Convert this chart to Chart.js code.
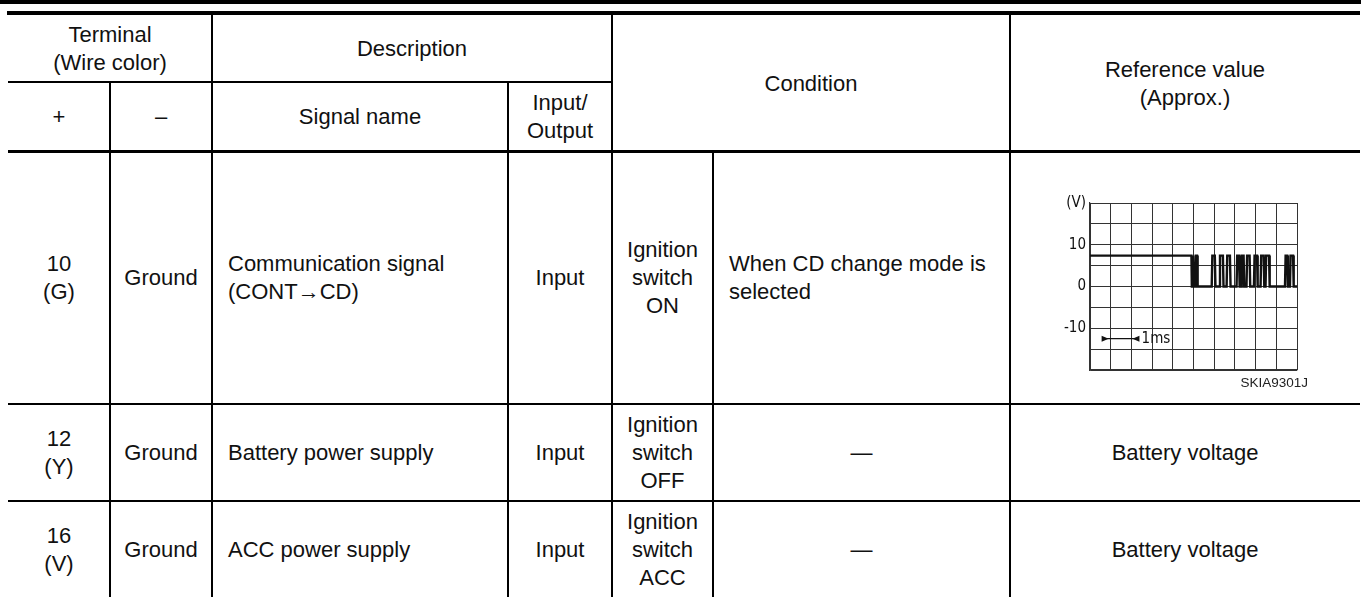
<!DOCTYPE html>
<html><head><meta charset="utf-8">
<script src="https://cdn.jsdelivr.net/npm/chart.js@4.4.1/dist/chart.umd.min.js"></script>
<style>
html,body{margin:0;padding:0;background:#fff;}
body{width:1361px;height:597px;position:relative;overflow:hidden;font-family:"Liberation Sans",Arial,Helvetica,sans-serif;color:#111;}
.l{position:absolute;background:#000;}
.t{position:absolute;display:flex;align-items:center;justify-content:center;text-align:center;font-size:22px;line-height:28px;box-sizing:border-box;}
.t.left{justify-content:flex-start;text-align:left;padding-left:16px;}
#wf{position:absolute;left:1030px;top:190px;width:290px;height:200px;}
#code{position:absolute;left:1180px;top:375px;width:128px;text-align:right;font-size:13.5px;line-height:16px;color:#222;}
</style></head>
<body>
<div id="wf"><canvas id="c" width="290" height="200"></canvas></div>
<div id="code"></div>
<script>
// ---- data ----
const headerRow1 = ["Terminal<br>(Wire color)", "Description"];
const headerSpan = ["Condition", "Reference value<br>(Approx.)"];
const headerRow2 = ["+", "–", "Signal name", "Input/<br>Output"];
const terminals = ["10<br>(G)", "12<br>(Y)", "16<br>(V)"];
const grounds = ["Ground", "Ground", "Ground"];
const signalNames = ["Communication signal<br>(CONT→CD)", "Battery power supply", "ACC power supply"];
const ioTypes = ["Input", "Input", "Input"];
const ignition = ["Ignition<br>switch<br>ON", "Ignition<br>switch<br>OFF", "Ignition<br>switch<br>ACC"];
const conditions = ["When CD change mode is<br>selected", "—", "—"];
const refValues = [null, "Battery voltage", "Battery voltage"];
const figureCode = "SKIA9301J";

const waveTimeMs = [0,4.90,4.92,4.96,4.98,5.02,5.04,5.09,5.11,5.17,5.20,5.88,5.91,6.03,6.06,6.25,6.28,6.42,6.45,6.60,6.63,6.76,6.79,7.08,7.11,7.20,7.23,7.30,7.33,7.42,7.45,7.56,7.59,7.71,7.74,7.92,7.95,8.07,8.10,8.24,8.27,8.39,8.42,8.48,8.51,8.65,8.68,9.42,9.45,9.53,9.56,9.66,9.69,9.81,9.84,10];
const waveVolts  = [7.4,7.4,0,0,7.4,7.4,0,0,7.4,7.4,0,0,7.4,7.4,0,0,7.4,7.4,0,0,7.4,7.4,0,0,7.4,7.4,0,0,7.4,7.4,0,0,7.4,7.4,0,0,7.4,7.4,0,0,7.4,7.4,0,0,7.4,7.4,0,0,7.4,7.4,0,0,7.4,7.4,0,0];
const yTickValues = [20, 10, 0, -10];
const yTickLabels = ["(V)", "10", "0", "-10"];
const scaleBarMs = [0.6, 0.9, 2.05, 2.25]; // line start, right-pointing tip, left-pointing tip, line end
const scaleBarVolt = -12.5;
const scaleBarLabel = "1ms";

// ---- table layout ----
const X = [8, 110, 212, 508, 612, 713, 1010, 1360];
const Y = [15, 82, 152, 404, 501, 598];
function line(x, y, w, h){const d=document.createElement('div');d.className='l';d.style.cssText=`left:${x}px;top:${y}px;width:${w}px;height:${h}px`;document.body.appendChild(d);}
function cell(x1,y1,x2,y2,html,left){const d=document.createElement('div');d.className='t'+(left?' left':'');d.style.cssText=`left:${x1}px;top:${y1}px;width:${x2-x1}px;height:${y2-y1}px`;d.innerHTML=html;document.body.appendChild(d);}

line(0,0,1361,4);
line(7,11,1353,4);
line(X[0],81,X[4]-X[0],2);
line(X[0],150,1352,3);
line(X[0],403,1352,2);
line(X[0],500,1352,2);
// verticals
line(X[2]-1,15,2,600);
line(X[4]-1,15,2,600);
line(X[6]-1,15,2,600);
line(X[1]-1,82,2,520);
line(X[3]-1,82,2,520);
line(X[5]-1,152,2,450);

cell(X[0],Y[0],X[2],Y[1],headerRow1[0]);
cell(X[2],Y[0],X[4],Y[1],headerRow1[1]);
cell(X[4],Y[0],X[6],Y[2],headerSpan[0]);
cell(X[6],Y[0],X[7],Y[2],headerSpan[1]);
cell(X[0],Y[1],X[1],Y[2],headerRow2[0]);
cell(X[1],Y[1],X[2],Y[2],headerRow2[1]);
cell(X[2],Y[1],X[3],Y[2],headerRow2[2]);
cell(X[3],Y[1],X[4],Y[2],headerRow2[3]);
for(let r=0;r<3;r++){
  const y1=Y[2+r], y2=Y[3+r];
  cell(X[0],y1,X[1],y2,terminals[r]);
  cell(X[1],y1,X[2],y2,grounds[r]);
  cell(X[2],y1,X[3],y2,signalNames[r],true);
  cell(X[3],y1,X[4],y2,ioTypes[r]);
  cell(X[4],y1,X[5],y2,ignition[r]);
  cell(X[5],y1,X[6],y2,conditions[r],r===0);
  if(refValues[r]) cell(X[6],y1,X[7],y2,refValues[r]);
}
document.getElementById('code').textContent = figureCode;

// ---- waveform chart ----
const tickFont = {family:"'Liberation Sans Narrow','DejaVu Sans Condensed','Liberation Sans',sans-serif", size:15};
const scaleBarPlugin = {
  id:'scaleBar',
  afterDatasetsDraw(chart){
    const xs=chart.scales.x, ys=chart.scales.y, c=chart.ctx;
    const y=ys.getPixelForValue(scaleBarVolt);
    const [a,t1,t2,b]=scaleBarMs.map(v=>xs.getPixelForValue(v));
    c.save();c.strokeStyle='#111';c.fillStyle='#111';c.lineWidth=1.3;
    c.beginPath();c.moveTo(a,y);c.lineTo(b,y);c.stroke();
    c.beginPath();c.moveTo(t1,y);c.lineTo(t1-7,y-3);c.lineTo(t1-7,y+3);c.closePath();c.fill();
    c.beginPath();c.moveTo(t2,y);c.lineTo(t2+7,y-3);c.lineTo(t2+7,y+3);c.closePath();c.fill();
    c.font=`${tickFont.size}px ${tickFont.family}`;c.textBaseline='middle';c.textAlign='left';
    c.fillText(scaleBarLabel,b+5,y);
    c.restore();
  }
};
new Chart(document.getElementById('c'),{
  type:'scatter',
  data:{datasets:[{data:waveTimeMs.map((t,i)=>({x:t,y:waveVolts[i]})),showLine:true,borderColor:'#111',borderWidth:2.4,pointRadius:0,tension:0,fill:false}]},
  options:{
    responsive:false,animation:false,
    layout:{padding:{top:12,right:23,bottom:20,left:0}},
    plugins:{legend:{display:false},tooltip:{enabled:false}},
    scales:{
      x:{type:'linear',min:0,max:10,ticks:{display:false,stepSize:1},grid:{color:'#333',lineWidth:1,drawTicks:false},border:{color:'#333',width:1.2},afterFit(s){s.height=0;}},
      y:{type:'linear',min:-20,max:20,
         ticks:{stepSize:5,autoSkip:false,color:'#111',font:tickFont,padding:4,
                callback(v){const i=yTickValues.indexOf(v);return i>=0?yTickLabels[i]:'';}},
         grid:{color:'#333',lineWidth:1,drawTicks:false},border:{color:'#333',width:1.2},
         afterFit(s){s.width=60;}}
    }
  },
  plugins:[scaleBarPlugin]
});
</script>
</body></html>
